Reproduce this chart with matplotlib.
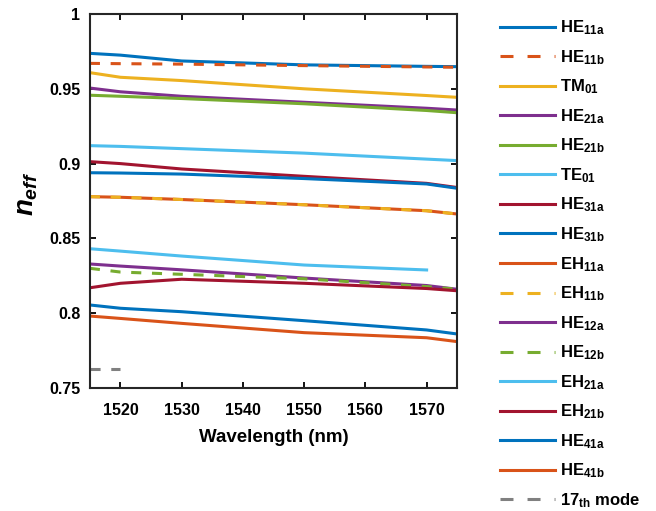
import matplotlib
matplotlib.use("Agg")
import matplotlib.pyplot as plt
from matplotlib.lines import Line2D

plt.rcParams['font.family'] = ['Liberation Sans', 'DejaVu Sans']
plt.rcParams['font.weight'] = 'bold'
plt.rcParams['mathtext.fontset'] = 'custom'
plt.rcParams['mathtext.rm'] = 'Liberation Sans:bold'
plt.rcParams['mathtext.bf'] = 'Liberation Sans:bold'
plt.rcParams['mathtext.it'] = 'Liberation Sans:bold:italic'
plt.rcParams['mathtext.default'] = 'bf'

# Data
wl_full = [1515, 1520, 1530, 1550, 1570, 1575]
HE11a = [0.9737, 0.9725, 0.9686, 0.9660, 0.9650, 0.9648]
HE11b = [0.9670, 0.9668, 0.9665, 0.9655, 0.9646, 0.9644]
TM01 = [0.9608, 0.9577, 0.9555, 0.9500, 0.9455, 0.9443]
HE21a = [0.9505, 0.9480, 0.9450, 0.9410, 0.9370, 0.9358]
HE21b = [0.9457, 0.9450, 0.9435, 0.9400, 0.9355, 0.9340]
TE01 = [0.9120, 0.9115, 0.9100, 0.9070, 0.9030, 0.9020]
HE31a = [0.9013, 0.9000, 0.8964, 0.8915, 0.8868, 0.8840]
HE31b = [0.8939, 0.8937, 0.8930, 0.8900, 0.8864, 0.8835]
EH11a = [0.8779, 0.8775, 0.8760, 0.8725, 0.8685, 0.8663]
EH11b = [0.8779, 0.8775, 0.8760, 0.8725, 0.8685, 0.8663]
HE12a = [0.8329, 0.8315, 0.8290, 0.8235, 0.8185, 0.8160]
HE12b = [0.8300, 0.8275, 0.8260, 0.8230, 0.8178, 0.8160]
wl_eh21a = [1515, 1520, 1530, 1550, 1570]
EH21a = [0.8431, 0.8415, 0.8382, 0.8322, 0.8289]
EH21b = [0.8170, 0.8200, 0.8227, 0.8200, 0.8165, 0.8150]
HE41a = [0.8055, 0.8033, 0.8010, 0.7950, 0.7888, 0.7861]
HE41b = [0.7981, 0.7965, 0.7932, 0.7870, 0.7836, 0.7810]
wl_17 = [1515, 1520]
mode17 = [0.7625, 0.7625]

xticks = [1520, 1530, 1540, 1550, 1560, 1570]
yticks = [0.75, 0.8, 0.85, 0.9, 0.95, 1.0]
yticklabels = ['0.75', '0.8', '0.85', '0.9', '0.95', '1']

c1, c2, c3, c4, c5, c6, c7 = '#0072BD', '#D95319', '#EDB120', '#7E2F8E', '#77AC30', '#4DBEEE', '#A2142F'
gray = '#808080'

fig = plt.figure(figsize=(6.56, 5.11), dpi=100)
ax = fig.add_axes([0.137, 0.2407, 0.560, 0.7319])

lw = 2.2
dash = (3.3, 3.5)
leg_dash = (4.25, 4.6)
series = [
    (wl_full, HE11a, c1, '-', r'HE$_{11a}$'),
    (wl_full, HE11b, c2, '--', r'HE$_{11b}$'),
    (wl_full, TM01, c3, '-', r'TM$_{01}$'),
    (wl_full, HE21a, c4, '-', r'HE$_{21a}$'),
    (wl_full, HE21b, c5, '-', r'HE$_{21b}$'),
    (wl_full, TE01, c6, '-', r'TE$_{01}$'),
    (wl_full, HE31a, c7, '-', r'HE$_{31a}$'),
    (wl_full, HE31b, c1, '-', r'HE$_{31b}$'),
    (wl_full, EH11a, c2, '-', r'EH$_{11a}$'),
    (wl_full, EH11b, c3, '--', r'EH$_{11b}$'),
    (wl_full, HE12a, c4, '-', r'HE$_{12a}$'),
    (wl_full, HE12b, c5, '--', r'HE$_{12b}$'),
    (wl_eh21a, EH21a, c6, '-', r'EH$_{21a}$'),
    (wl_full, EH21b, c7, '-', r'EH$_{21b}$'),
    (wl_full, HE41a, c1, '-', r'HE$_{41a}$'),
    (wl_full, HE41b, c2, '-', r'HE$_{41b}$'),
    (wl_17, mode17, gray, '--', r'17$_{th}$ mode'),
]
handles = []
for x, y, c, ls, lab in series:
    if ls == '--':
        ax.plot(x, y, color=c, lw=lw, dashes=dash, dash_capstyle='butt')
        h = Line2D([], [], color=c, lw=lw, dashes=leg_dash, dash_capstyle='butt', label=lab)
    else:
        h, = ax.plot(x, y, color=c, lw=lw, label=lab)
    handles.append(h)

ax.set_xlim(1515, 1575)
ax.set_ylim(0.75, 1.0)
ax.set_xticks(xticks)
ax.set_yticks(yticks)
ax.set_yticklabels(yticklabels)
ax.tick_params(direction='in', length=4, width=1.3, top=True, right=True, labelsize=11.5)
ax.tick_params(axis='x', pad=11)
ax.tick_params(axis='y', pad=7)
for s in ax.spines.values():
    s.set_linewidth(1.5)
    s.set_color('#262626')
ax.set_xlabel('Wavelength (nm)', fontsize=13.5, fontweight='bold', labelpad=8)
ax.set_ylabel(r'$\mathit{n}_{\mathit{eff}}$', fontsize=20)
ax.yaxis.set_label_coords(-0.135, 0.52)

fig.legend(handles=handles, loc='upper left', bbox_to_anchor=(0.74, 0.993), frameon=False,
           fontsize=12, handlelength=3.3, labelspacing=0.65, handletextpad=0.3)

fig.savefig('out.png', dpi=100)
